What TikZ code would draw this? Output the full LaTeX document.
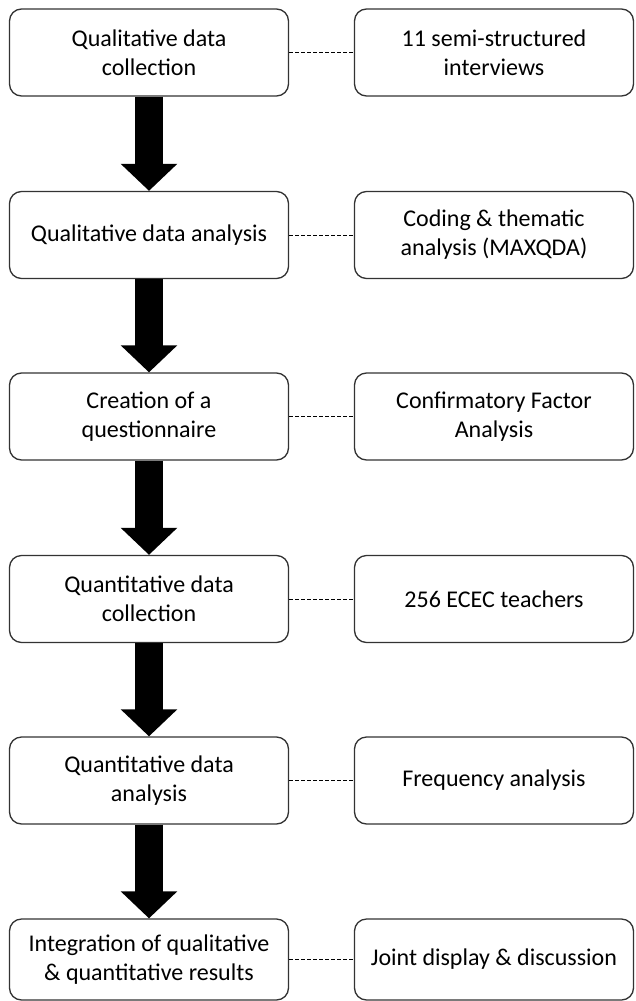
\documentclass[tikz,border=0pt]{standalone}
\usepackage{fontspec}
\setmainfont{Carlito}
\usetikzlibrary{arrows.meta}

\tikzset{
    stepbox/.style={draw=black!80, line width=1.3pt, rounded corners=12pt, fill=white,
        minimum width=279pt, minimum height=87pt, inner sep=0pt, align=center,
        font=\fontsize{24}{29}\selectfont},
    flowarrow/.style={line width=28pt, -{Triangle[width=55pt,length=27pt]}},
    link/.style={line width=1pt, dash pattern=on 4pt off 2pt}
}

\begin{document}
\begin{tikzpicture}[x=1pt, y=-1pt]
    \useasboundingbox[fill=white] (0,0) rectangle (635,1001);

    % steps
    \node[stepbox] (s1) at (149,52.5) {Qualitative data\\collection};
    \node[stepbox] (s2) at (149,235) {Qualitative data analysis};
    \node[stepbox] (s3) at (149,416.5) {Creation of a\\questionnaire};
    \node[stepbox] (s4) at (149,599) {Quantitative data\\collection};
    \node[stepbox] (s5) at (149,780.5) {Quantitative data\\analysis};
    \node[stepbox, minimum height=81pt] (s6) at (149,959.5) {Integration of qualitative\\\& quantitative results};

    % details
    \node[stepbox] (d1) at (494,52.5) {11 semi-structured\\interviews};
    \node[stepbox] (d2) at (494,235) {Coding \& thematic\\analysis (MAXQDA)};
    \node[stepbox] (d3) at (494,416.5) {Confirmatory Factor\\Analysis};
    \node[stepbox] (d4) at (494,599) {256 ECEC teachers};
    \node[stepbox] (d5) at (494,780.5) {Frequency analysis};
    \node[stepbox, minimum height=81pt] (d6) at (494,959.5) {Joint display \& discussion};

    \foreach \i in {1,...,6} {
        \draw[link] (s\i.east) -- (d\i.west);
    }
    \foreach \i/\j in {1/2,2/3,3/4,4/5,5/6} {
        \draw[flowarrow] (s\i.south) -- (s\j.north);
    }
\end{tikzpicture}
\end{document}
